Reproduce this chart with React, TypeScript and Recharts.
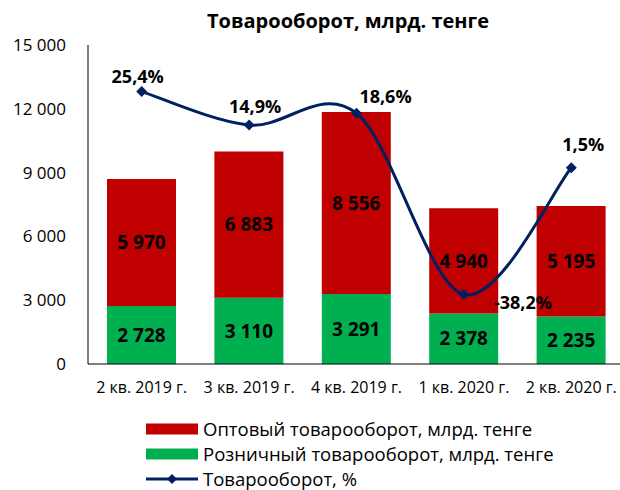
import React from 'react';
import { ComposedChart, Bar, Line, XAxis, YAxis, LabelList } from 'recharts';

const quarters = ['2 кв. 2019 г.', '3 кв. 2019 г.', '4 кв. 2019 г.', '1 кв. 2020 г.', '2 кв. 2020 г.'];
const wholesale = [5970, 6883, 8556, 4940, 5195];
const retail = [2728, 3110, 3291, 2378, 2235];
const growth = [25.4, 14.9, 18.6, -38.2, 1.5];
const yTicks = [0, 3000, 6000, 9000, 12000, 15000];

const RED = '#C00000';
const GREEN = '#00B050';
const NAVY = '#002060';
const FONT = '"Open Sans", sans-serif';

// offsets of the % labels from their points (label centre)
const pctLabelShift = [
    [-4, -16],
    [6, -19],
    [29, -17],
    [59, 8],
    [12, -24],
];

const data = quarters.map((q, i) => ({
    quarter: q,
    wholesale: wholesale[i],
    retail: retail[i],
    growth: growth[i],
}));

const fmtThousands = (v: number) => String(v).replace(/\B(?=(\d{3})+(?!\d))/g, ' ');
const fmtPct = (v: number) => v.toFixed(1).replace('.', ',') + '%';

// Excel-like smoothed line (Catmull-Rom through the points)
const excelSmooth = (context: any) => {
    let pts: number[][] = [];
    return {
        areaStart() {},
        areaEnd() {},
        lineStart() {
            pts = [];
        },
        point(x: number, y: number) {
            pts.push([+x, +y]);
        },
        lineEnd() {
            if (!pts.length) return;
            context.moveTo(pts[0][0], pts[0][1]);
            for (let i = 0; i < pts.length - 1; i++) {
                const p0 = pts[i - 1] || pts[i];
                const p1 = pts[i];
                const p2 = pts[i + 1];
                const p3 = pts[i + 2] || p2;
                context.bezierCurveTo(
                    p1[0] + (p2[0] - p0[0]) / 6,
                    p1[1] + (p2[1] - p0[1]) / 6,
                    p2[0] - (p3[0] - p1[0]) / 6,
                    p2[1] - (p3[1] - p1[1]) / 6,
                    p2[0],
                    p2[1]
                );
            }
        },
    };
};

const Diamond = (props: any) => {
    const { cx, cy } = props;
    if (cx == null || cy == null) return null;
    const r = 5.5;
    return (
        <polygon
            points={`${cx},${cy - r} ${cx + r},${cy} ${cx},${cy + r} ${cx - r},${cy}`}
            fill={NAVY}
        />
    );
};

const PctLabel = (props: any) => {
    const { x, y, value, index } = props;
    const [dx, dy] = pctLabelShift[index] || [0, -16];
    return (
        <text
            x={x + dx}
            y={y + dy}
            textAnchor="middle"
            dominantBaseline="central"
            fontFamily={FONT}
            fontWeight="bold"
            fontSize={18}
            fill="#000"
        >
            {fmtPct(value)}
        </text>
    );
};

const legendItems = [
    { label: 'Оптовый товарооборот, млрд. тенге', kind: 'bar', color: RED },
    { label: 'Розничный товарооборот, млрд. тенге', kind: 'bar', color: GREEN },
    { label: 'Товарооборот, %', kind: 'line', color: NAVY },
];

export default function App() {
    return (
        <div style={{ position: 'absolute', left: 0, top: 0, width: 620, height: 490, overflow: 'hidden', background: '#fff', fontFamily: FONT }}>
            <div style={{ position: 'absolute', top: 7, left: 0, width: 696, textAlign: 'center', fontWeight: 'bold', fontSize: 20, color: '#000' }}>
                Товарооборот, млрд. тенге
            </div>
            <ComposedChart width={630} height={490} data={data} margin={{ top: 45, right: 5, bottom: 96, left: 0 }} barSize={69}>
                <XAxis
                    dataKey="quarter"
                    axisLine={{ stroke: '#000' }}
                    tickLine={false}
                    tickSize={0}
                    tickMargin={18}
                    tick={{ fill: '#000', fontSize: 16, fontFamily: FONT }}
                    interval={0}
                />
                <YAxis
                    yAxisId="val"
                    width={88}
                    domain={[0, 15000]}
                    ticks={yTicks}
                    tickFormatter={fmtThousands}
                    axisLine={{ stroke: '#000' }}
                    tickLine={false}
                    tickSize={0}
                    tickMargin={22}
                    tick={{ fill: '#000', fontSize: 17, fontFamily: FONT }}
                />
                <YAxis yAxisId="pct" orientation="right" hide domain={[-60, 40]} />
                <Bar yAxisId="val" dataKey="retail" stackId="s" fill={GREEN} isAnimationActive={false}>
                    <LabelList dataKey="retail" position="center" formatter={fmtThousands} fill="#000" fontWeight="bold" fontSize={19} fontFamily={FONT} />
                </Bar>
                <Bar yAxisId="val" dataKey="wholesale" stackId="s" fill={RED} isAnimationActive={false}>
                    <LabelList dataKey="wholesale" position="center" formatter={fmtThousands} fill="#000" fontWeight="bold" fontSize={19} fontFamily={FONT} />
                </Bar>
                <Line
                    yAxisId="pct"
                    dataKey="growth"
                    type={excelSmooth as any}
                    stroke={NAVY}
                    strokeWidth={3}
                    dot={<Diamond />}
                    activeDot={false}
                    isAnimationActive={false}
                >
                    <LabelList dataKey="growth" content={<PctLabel />} />
                </Line>
            </ComposedChart>
            <div style={{ position: 'absolute', left: 146, top: 416 }}>
                {legendItems.map((it) => (
                    <div key={it.label} style={{ display: 'flex', alignItems: 'center', height: 25 }}>
                        <svg width={53} height={14} style={{ marginRight: 4 }}>
                            {it.kind === 'bar' ? (
                                <rect x={0} y={1.5} width={52} height={11} fill={it.color} />
                            ) : (
                                <g>
                                    <line x1={0} y1={7} x2={52} y2={7} stroke={it.color} strokeWidth={3} />
                                    <polygon points="26,2 31,7 26,12 21,7" fill={it.color} />
                                </g>
                            )}
                        </svg>
                        <span style={{ fontSize: 18.5, lineHeight: '25px', color: '#000', whiteSpace: 'nowrap' }}>{it.label}</span>
                    </div>
                ))}
            </div>
        </div>
    );
}
